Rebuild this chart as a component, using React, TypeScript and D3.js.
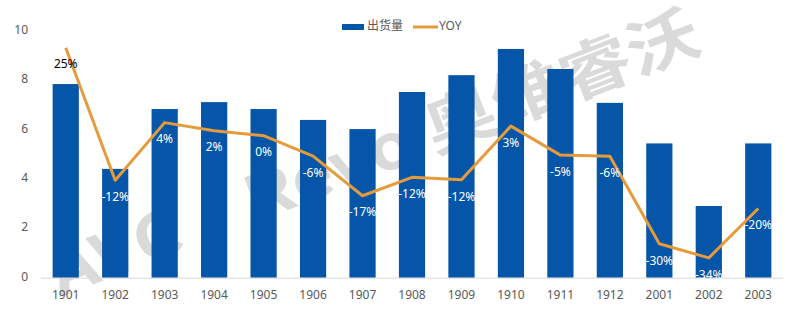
import React, { useEffect, useRef } from "react";
import * as d3 from "d3";

const categories = ["1901", "1902", "1903", "1904", "1905", "1906", "1907", "1908", "1909", "1910", "1911", "1912", "2001", "2002", "2003"];
// 出货量 (bars, left axis)
const shipments = [7.83, 4.4, 6.82, 7.1, 6.82, 6.38, 6.01, 7.51, 8.19, 9.25, 8.44, 7.07, 5.43, 2.9, 5.43];
// YOY in percent (line, hidden right axis)
const yoy = [25.1, -12.4, 3.9, 1.6, 0.2, -5.6, -16.8, -11.6, -12.3, 2.9, -5.3, -5.6, -30.4, -34.4, -20.4];
const yTicks = [0, 2, 4, 6, 8, 10];

const W = 796;
const H = 317;
const BLUE = "#0556A8";
const ORANGE = "#E59B3C";
const TEXT = "#595959";
const FONT = "'Noto Sans', 'Noto Sans CJK SC', sans-serif";

const App = () => {
  const ref = useRef<SVGSVGElement>(null);

  useEffect(() => {
    const svg = d3.select(ref.current);
    svg.selectAll("*").remove();

    const left = 41, right = 783, top = 30.4, bottom = 277.7;

    const x = d3.scaleBand().domain(categories).range([left, right]).paddingInner(0.47).paddingOuter(0.235);
    const y = d3.scaleLinear().domain([0, 10]).range([bottom, top]);
    const y2 = d3.scaleLinear().domain([-40, 30]).range([bottom, top]);

    // watermark behind everything
    svg.append("text")
      .attr("transform", "translate(376,158) rotate(-21)")
      .attr("text-anchor", "middle")
      .attr("dominant-baseline", "middle")
      .attr("textLength", 690)
      .attr("lengthAdjust", "spacingAndGlyphs")
      .style("font-family", "'Noto Sans CJK SC', 'Noto Sans', sans-serif")
      .style("font-weight", "bold")
      .style("font-size", "62px")
      .style("fill", "#dadada")
      .text("AVC·Revo 奥维睿沃");

    // bars
    svg.append("g").selectAll("rect")
      .data(shipments)
      .enter()
      .append("rect")
      .attr("x", (d, i) => x(categories[i])!)
      .attr("y", d => y(d))
      .attr("width", x.bandwidth())
      .attr("height", d => bottom - y(d))
      .style("fill", BLUE);

    // baseline
    svg.append("line")
      .attr("x1", left).attr("x2", right)
      .attr("y1", bottom + 0.5).attr("y2", bottom + 0.5)
      .style("stroke", "#d9d9d9")
      .style("stroke-width", 1);

    // y tick labels
    svg.append("g").selectAll("text")
      .data(yTicks)
      .enter()
      .append("text")
      .attr("x", 28)
      .attr("y", d => y(d))
      .attr("text-anchor", "end")
      .attr("dominant-baseline", "middle")
      .style("font-family", FONT)
      .style("font-size", "12px")
      .style("fill", TEXT)
      .text(d => d);

    // x labels
    svg.append("g").selectAll("text")
      .data(categories)
      .enter()
      .append("text")
      .attr("x", d => x(d)! + x.bandwidth() / 2)
      .attr("y", 296)
      .attr("text-anchor", "middle")
      .attr("dominant-baseline", "middle")
      .style("font-family", FONT)
      .style("font-size", "12px")
      .style("fill", TEXT)
      .text(d => d);

    // YOY line
    const line = d3.line<number>()
      .x((d, i) => x(categories[i])! + x.bandwidth() / 2)
      .y(d => y2(d));

    svg.append("path")
      .datum(yoy)
      .attr("d", line)
      .style("fill", "none")
      .style("stroke", ORANGE)
      .style("stroke-width", 3)
      .style("stroke-linejoin", "round");

    // data labels below the points
    svg.append("g").selectAll("text")
      .data(yoy)
      .enter()
      .append("text")
      .attr("x", (d, i) => x(categories[i])! + x.bandwidth() / 2)
      .attr("y", d => y2(d) + 17.5)
      .attr("text-anchor", "middle")
      .attr("dominant-baseline", "middle")
      .style("font-family", FONT)
      .style("font-size", "12px")
      .style("fill", (d, i) => (i === 0 ? "#000" : "#fff"))
      .text(d => Math.round(d) + "%");

    // legend
    const lg = svg.append("g");
    lg.append("rect")
      .attr("x", 342).attr("y", 24).attr("width", 22).attr("height", 6)
      .style("fill", BLUE);
    lg.append("text")
      .attr("x", 367).attr("y", 27)
      .attr("dominant-baseline", "middle")
      .style("font-family", "'Noto Sans CJK SC', sans-serif")
      .style("font-size", "12px")
      .style("fill", TEXT)
      .text("出货量");
    lg.append("line")
      .attr("x1", 413).attr("x2", 438).attr("y1", 27).attr("y2", 27)
      .style("stroke", ORANGE)
      .style("stroke-width", 3);
    lg.append("text")
      .attr("x", 439).attr("y", 27)
      .attr("dominant-baseline", "middle")
      .style("font-family", FONT)
      .style("font-size", "12px")
      .style("fill", TEXT)
      .text("YOY");
  }, []);

  return (
    <svg ref={ref} width={W} height={H}
      style={{ position: "absolute", left: 0, top: 0, background: "#fff" }} />
  );
};

export default App;
